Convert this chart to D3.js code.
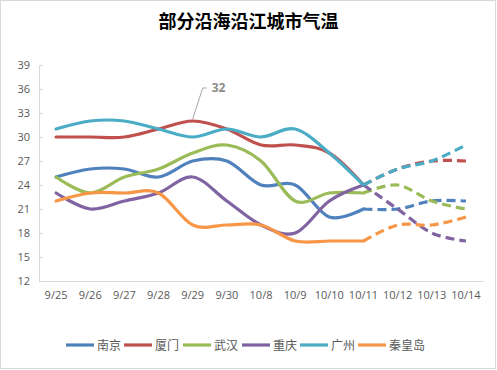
<!DOCTYPE html>
<html>
<head>
<meta charset="utf-8">
<script src="https://cdn.jsdelivr.net/npm/d3@7"></script>
<style>
  html, body { margin: 0; padding: 0; background: #fff; }
  svg { display: block; }
</style>
</head>
<body>
<svg id="chart"></svg>
<script>
const width = 497;
const height = 370;
const margin = { top: 65, right: 14, bottom: 89, left: 39 };
const innerWidth = width - margin.left - margin.right;
const innerHeight = height - margin.top - margin.bottom;

const categories = ["9/25", "9/26", "9/27", "9/28", "9/29", "9/30", "10/8", "10/9", "10/10", "10/11", "10/12", "10/13", "10/14"];
const cities = ["南京", "厦门", "武汉", "重庆", "广州", "秦皇岛"];
const nanjing = [25, 26, 26, 25, 27, 27, 24, 24, 20, 21, 21, 22, 22];
const xiamen = [30, 30, 30, 31, 32, 31, 29, 29, 28, 24, 26, 27, 27];
const wuhan = [25, 23, 25, 26, 28, 29, 27, 22, 23, 23, 24, 22, 21];
const chongqing = [23, 21, 22, 23, 25, 22, 19, 18, 22, 24, 21, 18, 17];
const guangzhou = [31, 32, 32, 31, 30, 31, 30, 31, 28, 24, 26, 27, 29];
const qinhuangdao = [22, 23, 23, 23, 19, 19, 19, 17, 17, 17, 19, 19, 20];
const yTicks = [12, 15, 18, 21, 24, 27, 30, 33, 36, 39];
const forecastStart = 9; // 10/11 onward is dashed
const labelPoint = { city: "厦门", index: 4 };

const colors = ["#4f81bd", "#c0504d", "#9bbb59", "#8064a2", "#4bacc6", "#f79646"];
const seriesValues = [nanjing, xiamen, wuhan, chongqing, guangzhou, qinhuangdao];
const series = cities.map((name, i) => ({ name, color: colors[i], values: seriesValues[i] }));

const svg = d3.select("#chart").attr("width", width).attr("height", height);

// outer frame
svg.append("rect")
  .attr("x", 0.5).attr("y", 0.5)
  .attr("width", width - 2).attr("height", height - 2)
  .attr("fill", "#fff").attr("stroke", "#d9d9d9");

svg.append("text")
  .attr("x", width / 2)
  .attr("y", 28)
  .attr("text-anchor", "middle")
  .style("font-family", "'Noto Sans CJK SC', sans-serif")
  .style("font-size", "18px")
  .style("font-weight", "bold")
  .style("fill", "#000")
  .text("部分沿海沿江城市气温");

const root = svg.append("g").attr("transform", `translate(${margin.left},${margin.top})`);

const x = d3.scaleBand().domain(categories).range([0, innerWidth]);
const y = d3.scaleLinear().domain([12, 39]).range([innerHeight, 0]);
const cx = (i) => x(categories[i]) + x.bandwidth() / 2;

function styleAxis(g) {
  g.attr("font-family", "'Open Sans', sans-serif").attr("font-size", 11);
  g.select(".domain").attr("stroke", "#d9d9d9");
  g.selectAll("line").attr("stroke", "#d9d9d9");
  g.selectAll("text").attr("fill", "#595959");
}

// axes
root.append("g")
  .attr("transform", `translate(0,${innerHeight})`)
  .call(d3.axisBottom(x).tickSize(0).tickPadding(10))
  .call(styleAxis);

root.append("g")
  .call(d3.axisLeft(y).tickValues(yTicks).tickSize(-4).tickPadding(9))
  .call(styleAxis);

const line = d3.line()
  .x((d) => cx(d.i))
  .y((d) => y(d.v))
  .curve(d3.curveCardinal.tension(0));

const lines = root.append("g").attr("fill", "none").attr("stroke-width", 3.2);

series.forEach((s) => {
  const pts = s.values.map((v, i) => ({ v, i }));
  lines.append("path")
    .attr("d", line(pts.slice(0, forecastStart + 1)))
    .attr("stroke", s.color)
    .attr("stroke-linecap", "round");
});

series.forEach((s) => {
  const pts = s.values.map((v, i) => ({ v, i }));
  lines.append("path")
    .attr("d", line(pts.slice(forecastStart)))
    .attr("stroke", s.color)
    .attr("stroke-dasharray", "9,5");
});

// data label with leader line
const lp = series.find((s) => s.name === labelPoint.city);
const px = cx(labelPoint.index);
const py = y(lp.values[labelPoint.index]);
root.append("path")
  .attr("d", `M${px},${py - 2} L${px + 10},${py - 33} L${px + 14},${py - 33}`)
  .attr("fill", "none")
  .attr("stroke", "#a6a6a6")
  .attr("stroke-width", 1);
root.append("text")
  .attr("x", px + 19)
  .attr("y", py - 29)
  .style("font-family", "'Open Sans', sans-serif")
  .style("font-size", "12px")
  .style("font-weight", "bold")
  .style("fill", "#8c8c8c")
  .text(lp.values[labelPoint.index]);

// legend
const legendX = [66, 124, 183, 242, 300, 358];
const legend = svg.append("g").attr("transform", "translate(0,345)");
series.forEach((s, i) => {
  const item = legend.append("g").attr("transform", `translate(${legendX[i]},0)`);
  item.append("line")
    .attr("x1", 0).attr("x2", 28)
    .attr("stroke", s.color)
    .attr("stroke-width", 3.2);
  item.append("text")
    .attr("x", 31)
    .attr("y", 4.5)
    .style("font-family", "'Noto Sans CJK SC', sans-serif")
    .style("font-size", "12px")
    .style("fill", "#595959")
    .text(s.name);
});
</script>
</body>
</html>
